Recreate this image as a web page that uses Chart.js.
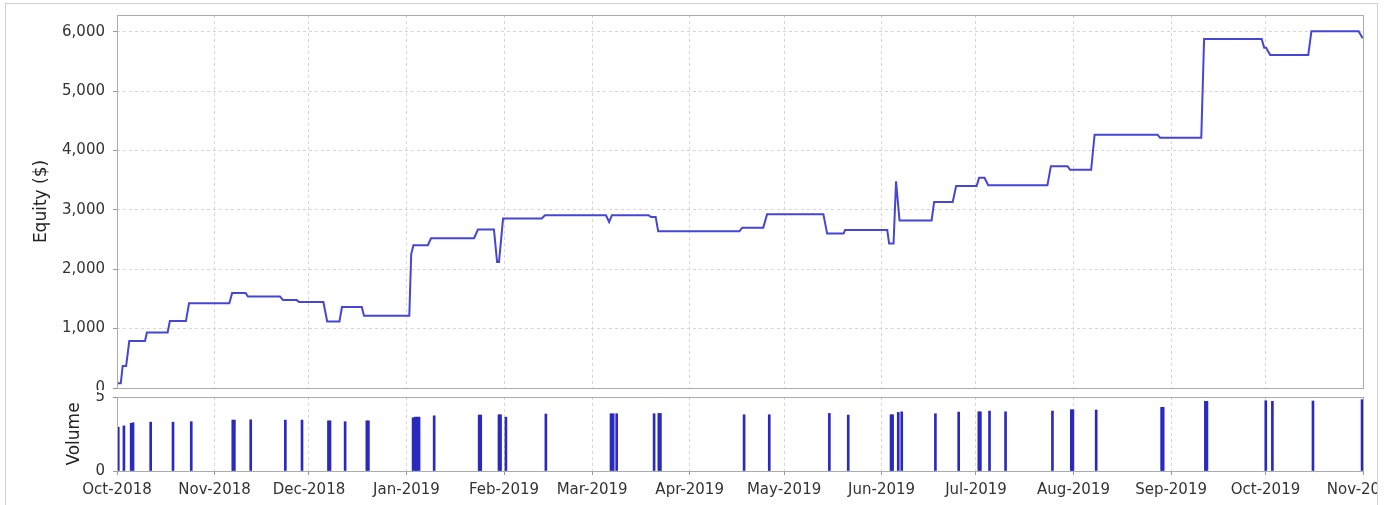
<!DOCTYPE html>
<html>
<head>
<meta charset="utf-8">
<script src="https://cdn.jsdelivr.net/npm/chart.js@4.4.0/dist/chart.umd.min.js"></script>
<style>
  html, body { margin:0; padding:0; background:#fff; }
  #frame { position:absolute; left:5px; top:3px; width:1371px; height:530px;
           border:1px solid #d0d0d0; overflow:hidden; background:#fff; }
  #equityBox { position:absolute; left:-6px; top:-4px; width:1440px; height:390px; }
  #volumeBox { position:absolute; left:-6px; top:388px; width:1440px; height:113px; }
</style>
</head>
<body>
<div id="frame">
  <div id="equityBox"><canvas id="equityChart"></canvas></div>
  <div id="volumeBox"><canvas id="volumeChart"></canvas></div>
</div>
<script>
// days counted from 1 Oct 2018
const monthDays   = [0,31,61,92,123,151,182,212,243,273,304,335,365,396];
const monthLabels = ['Oct-2018','Nov-2018','Dec-2018','Jan-2019','Feb-2019','Mar-2019','Apr-2019',
                     'May-2019','Jun-2019','Jul-2019','Aug-2019','Sep-2019','Oct-2019','Nov-2019'];

const equityTicks = [0,1000,2000,3000,4000,5000,6000];
const volumeTicks = [0,5];

const equityDays = [0,1.2,1.8,2.9,3.9,8.9,9.5,16.1,16.8,21.9,
  22.9,35.7,36.6,40.9,41.6,51.8,52.8,57.1,57.9,65.6,
  66.8,70.7,71.5,77.8,78.5,92.9,93.5,94.2,98.8,99.8,
  113.5,114.7,119.8,120.8,121.4,122.7,135.0,136.0,155.4,156.4,
  157.3,168.9,169.7,171.2,172.0,197.8,198.7,205.4,206.6,224.5,
  225.7,230.9,231.4,244.8,245.4,246.8,247.6,248.7,258.9,259.7,
  265.6,266.7,273.2,274.0,275.7,276.9,295.7,296.8,302.1,302.9,
  309.6,310.7,330.7,331.5,344.6,345.5,363.8,364.6,365.2,366.5,
  378.6,379.6,394.6,395.9];
const equityValues = [80,80,370,370,790,790,935,935,1127,1127,
  1425,1425,1600,1600,1540,1540,1480,1480,1447,1447,
  1120,1120,1362,1362,1218,1218,2250,2403,2403,2521,
  2521,2668,2668,2121,2121,2853,2853,2909,2909,2796,
  2909,2909,2880,2880,2639,2639,2700,2700,2926,2926,
  2600,2600,2659,2659,2432,2432,3480,2820,2820,3132,
  3132,3400,3400,3540,3540,3415,3415,3735,3735,3675,
  3675,4265,4265,4214,4214,5876,5876,5730,5730,5606,
  5606,6005,6005,5887];

const volumeDays = [0.4,2.2,4.5,5.1,10.7,17.8,23.6,36.8,37.3,42.5,
  53.5,58.8,67.2,67.7,72.5,79.4,79.9,94.1,94.8,95.4,
  96.0,100.8,115.1,115.6,121.4,121.9,123.6,136.3,157.0,157.7,
  158.8,170.7,172.2,172.7,199.3,207.3,226.4,232.4,246.0,246.5,
  248.3,249.4,260.1,267.5,273.9,274.4,277.3,282.4,297.3,303.3,
  303.8,311.2,332.0,332.5,345.9,346.4,365.1,367.2,380.1,395.7];
const volumeValues = [2.96,3.05,3.22,3.26,3.30,3.30,3.33,3.44,3.44,3.46,
  3.44,3.44,3.39,3.39,3.33,3.39,3.39,3.60,3.64,3.64,
  3.64,3.73,3.78,3.78,3.80,3.80,3.64,3.85,3.87,3.87,
  3.87,3.87,3.89,3.89,3.80,3.80,3.89,3.78,3.80,3.80,
  3.96,4.00,3.87,3.98,4.00,4.00,4.05,4.00,4.05,4.14,
  4.14,4.12,4.30,4.30,4.71,4.71,4.75,4.71,4.73,4.82];

Chart.defaults.font.family = '"DejaVu Sans", Verdana, sans-serif';
Chart.defaults.font.size = 15;
Chart.defaults.color = '#333';

// gray box round the plot area
const plotFrame = {
  id: 'plotFrame',
  afterDraw(chart){
    const a = chart.chartArea, ctx = chart.ctx;
    ctx.save();
    ctx.strokeStyle = '#ababab';
    ctx.lineWidth = 1;
    const l = Math.round(a.left) + 0.5, t = Math.round(a.top) + 0.5;
    ctx.strokeRect(l, t, Math.round(a.right) - Math.round(a.left), Math.round(a.bottom) - Math.round(a.top));
    ctx.restore();
  }
};

const gridX = { color:'#d6d6d6', tickColor:'#999', tickBorderDash:[], tickLength:4, offset:false };
const gridY = { color:'#d6d6d6', tickColor:'#999', tickBorderDash:[], tickLength:4 };
const dashed = { display:false, dash:[3,3] };

function monthTicks(scale){ scale.ticks = monthDays.map(v => ({ value:v })); }

// fixed axis boxes so both plots line up
function fixY(scale){ scale.width = 117; scale.paddingTop = 0; scale.paddingBottom = 0; }
function fixX(h){
  return scale => { scale.height = h; scale.paddingLeft = 0; scale.paddingRight = 0; };
}

// ==========================
// EQUITY LINE
// ==========================
new Chart(document.getElementById('equityChart'), {
  type: 'line',
  data: {
    datasets: [{
      data: equityDays.map((d,i) => ({ x:d, y:equityValues[i] })),
      borderColor: '#4545d6',
      borderWidth: 2,
      pointRadius: 0,
      tension: 0,
      fill: false
    }]
  },
  options: {
    responsive: true,
    maintainAspectRatio: false,
    animation: false,
    layout: { padding: { left:0, right:77, top:15, bottom:2 } },
    plugins: { legend:{ display:false }, tooltip:{ enabled:false } },
    scales: {
      x: {
        type: 'linear', min:0, max:396,
        afterBuildTicks: monthTicks,
        afterFit: fixX(0),
        ticks: { display:false },
        grid: { ...gridX, drawTicks:false },
        border: dashed
      },
      y: {
        min:0, max:6280,
        afterBuildTicks: s => { s.ticks = equityTicks.map(v => ({ value:v })); },
        afterFit: fixY,
        ticks: { padding:8, callback: v => v.toLocaleString('en-US') },
        grid: gridY,
        border: dashed,
        title: { display:true, text:'Equity ($)', color:'#222', font:{ size:17 }, padding:{ top:31, bottom:0 } }
      }
    }
  },
  plugins: [plotFrame]
});

// ==========================
// VOLUME BARS
// ==========================
new Chart(document.getElementById('volumeChart'), {
  type: 'bar',
  data: {
    datasets: [{
      data: volumeDays.map((d,i) => ({ x:d, y:volumeValues[i] })),
      backgroundColor: '#2a2ac0',
      barThickness: 2
    }]
  },
  options: {
    responsive: true,
    maintainAspectRatio: false,
    animation: false,
    layout: { padding: { left:0, right:77, top:5, bottom:6 } },
    plugins: { legend:{ display:false }, tooltip:{ enabled:false } },
    scales: {
      x: {
        type: 'linear', min:0, max:396, offset:false,
        afterBuildTicks: monthTicks,
        afterFit: fixX(28),
        ticks: { padding:6, maxRotation:0, autoSkip:false, callback: (v,i) => monthLabels[i] },
        grid: gridX,
        border: dashed
      },
      y: {
        min:0, max:5,
        afterBuildTicks: s => { s.ticks = volumeTicks.map(v => ({ value:v })); },
        afterFit: fixY,
        ticks: { padding:8 },
        grid: gridY,
        border: dashed,
        title: { display:true, text:'Volume', color:'#222', font:{ size:17 }, padding:{ top:64, bottom:0 } }
      }
    }
  },
  plugins: [plotFrame]
});
</script>
</body>
</html>
